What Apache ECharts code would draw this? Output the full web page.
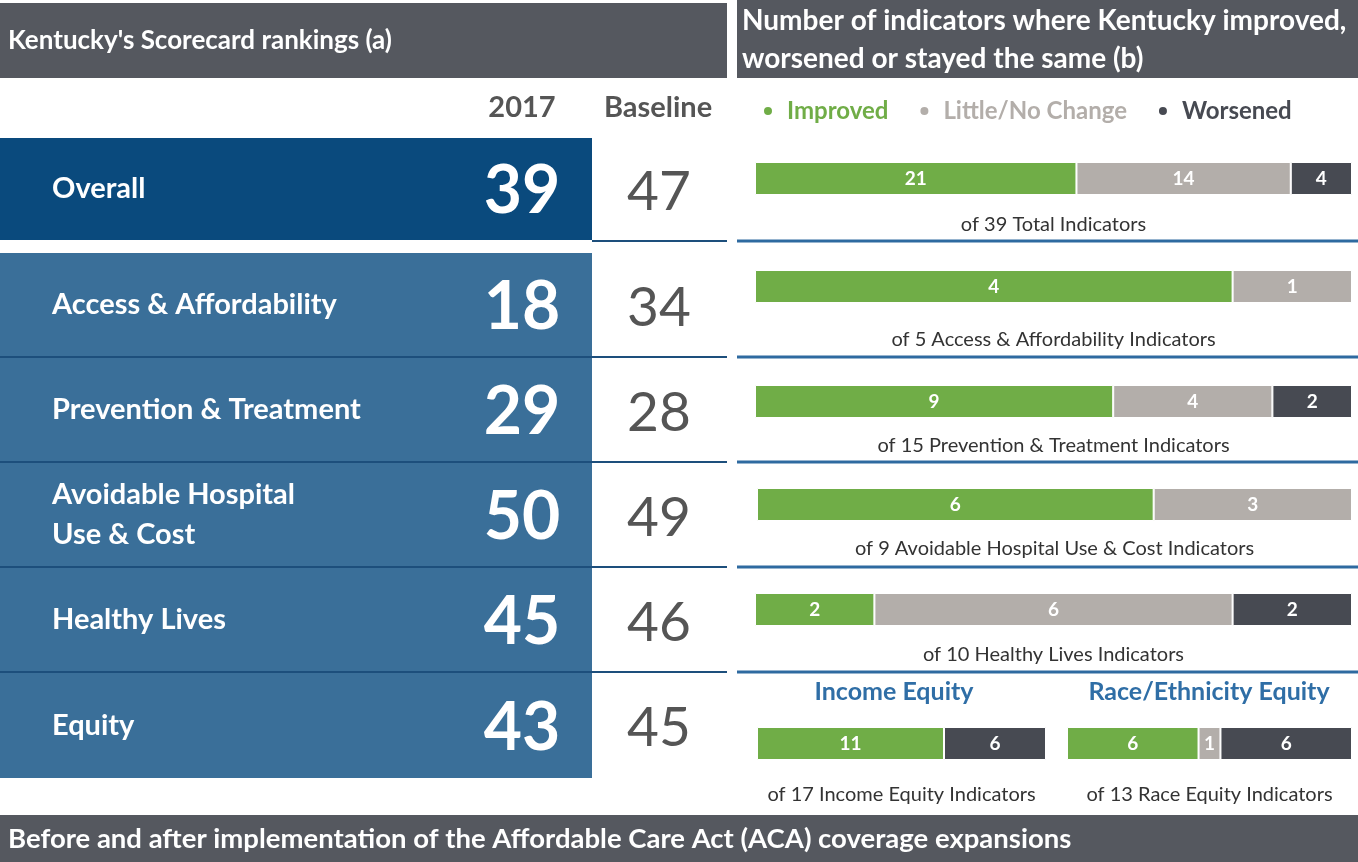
<!DOCTYPE html>
<html>
<head>
<meta charset="UTF-8">
<title>Kentucky Scorecard rankings</title>
<script src="https://cdn.jsdelivr.net/npm/echarts@6/dist/echarts.min.js"></script>
<style>
  html, body { margin: 0; padding: 0; background: #fff; }
  #main { width: 1358px; height: 862px; }
</style>
</head>
<body>
<div id="main"></div>
<script type="text/javascript">
    // ranking table (left)
    var rowNames = ['Overall', 'Access & Affordability', 'Prevention & Treatment', 'Avoidable Hospital\nUse & Cost', 'Healthy Lives', 'Equity'];
    var rank2017 = [39, 18, 29, 50, 45, 43];
    var rankBaseline = [47, 34, 28, 49, 46, 45];

    // indicator counts (right)
    var groupNames = ['Total', 'Access & Affordability', 'Prevention & Treatment', 'Avoidable Hospital Use & Cost', 'Healthy Lives', 'Income Equity', 'Race Equity'];
    var improved = [21, 4, 9, 6, 2, 11, 6];
    var littleNoChange = [14, 1, 4, 3, 6, 0, 1];
    var worsened = [4, 0, 2, 0, 2, 6, 6];

    var FONT = 'Lato';
    var GREEN = '#70ad47', GREY = '#b3aeaa', DARK = '#474a52';
    var HEAD = '#55585f', NAVY = '#0a4a7d', BLUE = '#3a6f99', LINE = '#2e6aa0';

    // layout of each bar row: [left, width, top]
    var barBoxes = [
        [755, 597, 162],
        [755, 597, 270],
        [755, 597, 385],
        [757, 595, 488],
        [755, 597, 593],
        [757, 289, 727],
        [1067, 285, 727]
    ];
    var captionY = [225, 340, 446, 549, 655, 795, 795];
    // left table row bands: [top, bottom]
    var rowBands = [[138, 240], [253, 357], [358, 462], [463, 567], [568, 672], [673, 778]];

    var myChart = echarts.init(document.getElementById('main'));

    var grids = [], xAxes = [], yAxes = [], series = [];
    var segNames = ['Improved', 'Little/No Change', 'Worsened'];
    var segColors = [GREEN, GREY, DARK];
    var segData = [improved, littleNoChange, worsened];

    for (var i = 0; i < groupNames.length; i++) {
        var total = improved[i] + littleNoChange[i] + worsened[i];
        var b = barBoxes[i];
        grids.push({ left: b[0], width: b[1], top: b[2], height: 33 });
        xAxes.push({ type: 'value', gridIndex: i, min: 0, max: total, show: false });
        yAxes.push({ type: 'category', gridIndex: i, data: [groupNames[i]], show: false });
        for (var s = 0; s < 3; s++) {
            series.push({
                name: segNames[s],
                type: 'bar',
                xAxisIndex: i,
                yAxisIndex: i,
                stack: 'g' + i,
                barWidth: '100%',
                itemStyle: { color: segColors[s], borderColor: '#fff', borderWidth: 1 },
                label: {
                    show: true,
                    position: 'inside',
                    color: '#fff',
                    fontFamily: FONT,
                    fontWeight: 'bold',
                    fontSize: 19,
                    formatter: function (p) { return p.value ? String(p.value) : ''; }
                },
                data: [segData[s][i]]
            });
        }
    }

    var graphics = [];
    // headers
    graphics.push({ type: 'rect', shape: { x: 0, y: 3, width: 727, height: 75 }, style: { fill: HEAD } });
    graphics.push({ type: 'rect', shape: { x: 737, y: 0, width: 621, height: 78 }, style: { fill: HEAD } });
    graphics.push({ type: 'rect', shape: { x: 0, y: 815, width: 1358, height: 47 }, style: { fill: HEAD } });
    graphics.push({ type: 'text', x: 8, y: 41, style: { text: "Kentucky's Scorecard rankings (a)", fill: '#fff', font: 'bold 26px ' + FONT, textVerticalAlign: 'middle' } });
    graphics.push({ type: 'text', x: 742, y: 21, style: { text: 'Number of indicators where Kentucky improved,', fill: '#fff', font: 'bold 28px ' + FONT, textVerticalAlign: 'middle' } });
    graphics.push({ type: 'text', x: 742, y: 59, style: { text: 'worsened or stayed the same (b)', fill: '#fff', font: 'bold 28px ' + FONT, textVerticalAlign: 'middle' } });
    graphics.push({ type: 'text', x: 8, y: 839, style: { text: 'Before and after implementation of the Affordable Care Act (ACA) coverage expansions', fill: '#fff', font: 'bold 27.5px ' + FONT, textVerticalAlign: 'middle' } });

    // column headers
    graphics.push({ type: 'text', x: 522, y: 108, style: { text: '2017', fill: '#555', font: 'bold 29px ' + FONT, textAlign: 'center', textVerticalAlign: 'middle' } });
    graphics.push({ type: 'text', x: 658, y: 108, style: { text: 'Baseline', fill: '#555', font: 'bold 29px ' + FONT, textAlign: 'center', textVerticalAlign: 'middle' } });

    // left table rows
    for (var r = 0; r < rowNames.length; r++) {
        var band = rowBands[r];
        var mid = (band[0] + band[1]) / 2;
        graphics.push({ type: 'rect', shape: { x: 0, y: band[0], width: 592, height: band[1] - band[0] }, style: { fill: r === 0 ? NAVY : BLUE } });
        graphics.push({ type: 'text', x: 52, y: mid, style: { text: rowNames[r], fill: '#fff', font: 'bold 29px ' + FONT, textVerticalAlign: 'middle', lineHeight: 40 } });
        graphics.push({ type: 'text', x: 522, y: mid + 3, style: { text: String(rank2017[r]), fill: '#fff', font: 'bold 66px ' + FONT, textAlign: 'center', textVerticalAlign: 'middle' } });
        graphics.push({ type: 'text', x: 659, y: mid + 3, style: { text: String(rankBaseline[r]), fill: '#555', font: '55px ' + FONT, textAlign: 'center', textVerticalAlign: 'middle' } });
    }
    // separator lines
    var sepY = [241, 357, 462, 567, 672];
    for (var k = 0; k < sepY.length; k++) {
        graphics.push({ type: 'line', shape: { x1: k === 0 ? 592 : 0, y1: sepY[k], x2: 727, y2: sepY[k] }, style: { stroke: '#1d4f7c', lineWidth: 2 } });
        graphics.push({ type: 'line', shape: { x1: 737, y1: sepY[k], x2: 1358, y2: sepY[k] }, style: { stroke: LINE, lineWidth: 3 } });
    }

    // captions under bars
    for (var c = 0; c < groupNames.length; c++) {
        var tot = improved[c] + littleNoChange[c] + worsened[c];
        var bx = barBoxes[c];
        graphics.push({ type: 'text', x: bx[0] + bx[1] / 2, y: captionY[c], style: { text: 'of ' + tot + ' ' + groupNames[c] + ' Indicators', fill: '#333', font: '20px ' + FONT, textAlign: 'center', textVerticalAlign: 'middle' } });
    }
    // equity sub-titles
    graphics.push({ type: 'text', x: 894, y: 692, style: { text: 'Income Equity', fill: '#2f6ea6', font: 'bold 25px ' + FONT, textAlign: 'center', textVerticalAlign: 'middle' } });
    graphics.push({ type: 'text', x: 1209, y: 692, style: { text: 'Race/Ethnicity Equity', fill: '#2f6ea6', font: 'bold 25px ' + FONT, textAlign: 'center', textVerticalAlign: 'middle' } });

    var option = {
        animation: false,
        backgroundColor: '#fff',
        legend: {
            left: 757,
            top: 94,
            icon: 'circle',
            itemWidth: 10,
            itemHeight: 10,
            itemGap: 30,
            selectedMode: false,
            textStyle: { fontFamily: FONT, fontWeight: 'bold', fontSize: 24, padding: [0, 0, 0, 9] },
            data: [
                { name: 'Improved', textStyle: { color: GREEN } },
                { name: 'Little/No Change', textStyle: { color: GREY } },
                { name: 'Worsened', textStyle: { color: DARK } }
            ]
        },
        grid: grids,
        xAxis: xAxes,
        yAxis: yAxes,
        series: series,
        graphic: { elements: graphics }
    };
    myChart.setOption(option);
</script>
</body>
</html>
